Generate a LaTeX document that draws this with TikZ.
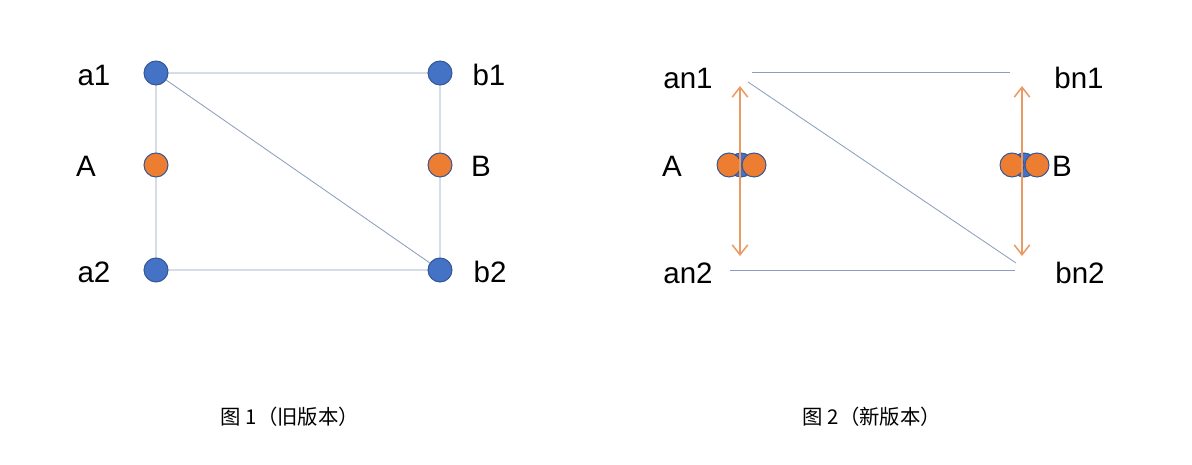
\documentclass[tikz,border=0pt]{standalone}
\usepackage{fontspec}
\setmainfont{Liberation Sans}
\newfontfamily\cjk{Noto Sans CJK SC}
\usepackage{xcolor}
\usetikzlibrary{arrows.meta}
\definecolor{dotblue}{RGB}{68,114,196}
\definecolor{dotedge}{RGB}{52,86,150}
\definecolor{dotorange}{RGB}{237,125,49}
\definecolor{edgegray}{RGB}{140,158,190}
\definecolor{arroworange}{RGB}{234,155,100}

\begin{document}
\begin{tikzpicture}[x=0.025cm, y=-0.025cm,
  bluedot/.style={circle, draw=dotedge, fill=dotblue, line width=0.7pt, minimum size=0.6cm, inner sep=0pt},
  orangedot/.style={circle, draw=dotedge, fill=dotorange, line width=0.7pt, minimum size=0.6cm, inner sep=0pt},
  tag/.style={font=\fontsize{21}{25}\selectfont, inner sep=0pt},
  caption/.style={font=\cjk\fontsize{14.5}{17}\selectfont},
  edge/.style={edgegray, line width=0.6pt},
  arrow/.style={<->, arroworange, line width=1.1pt, >={Straight Barb[length=7pt, width=11pt]}}
]
  \useasboundingbox (0,0) rectangle (1192,465);

  % Figure 1: edges
  \coordinate (pa1) at (156,73);
  \coordinate (pa2) at (156,270);
  \coordinate (pb1) at (440,73);
  \coordinate (pb2) at (440,270);
  \draw[edge] (pa1) -- (pb1) -- (pb2) -- (pa2) -- (pa1) -- (pb2);

  % Figure 1: dots
  \node[bluedot] (a1) at (pa1) {};
  \node[orangedot] (A) at (156,165) {};
  \node[bluedot] (a2) at (pa2) {};
  \node[bluedot] (b1) at (pb1) {};
  \node[orangedot] (B) at (440,165) {};
  \node[bluedot] (b2) at (pb2) {};

  % Figure 1: labels
  \node[tag] (la1) at (94,75) {a1};
  \node[tag] (lA) at (86,166) {A};
  \node[tag] (la2) at (94,272) {a2};
  \node[tag] (lb1) at (489,75) {b1};
  \node[tag] (lB) at (481,166) {B};
  \node[tag] (lb2) at (490,272) {b2};

  % Figure 2: edges
  \coordinate (t1) at (752,72);
  \coordinate (t2) at (1010,72);
  \coordinate (d1) at (748,82);
  \coordinate (d2) at (1016,263);
  \coordinate (u1) at (730,270);
  \coordinate (u2) at (1015,270);
  \draw[edge] (t1) -- (t2);
  \draw[edge] (d1) -- (d2);
  \draw[edge] (u1) -- (u2);

  % Figure 2: merged dots
  \node[bluedot] (An) at (741,165) {};
  \node[orangedot] (Al) at (729,165) {};
  \node[orangedot] (Ar) at (754,165) {};
  \node[bluedot] (Bn) at (1024,165) {};
  \node[orangedot] (Bl) at (1012,165) {};
  \node[orangedot] (Br) at (1037,165) {};

  % Figure 2: arrows
  \coordinate (au) at (740,86);
  \coordinate (ad) at (740,256);
  \coordinate (bu) at (1022,86);
  \coordinate (bd) at (1022,256);
  \draw[arrow] (au) -- (ad);
  \draw[arrow] (bu) -- (bd);

  % Figure 2: labels
  \node[tag] (lan1) at (688,78) {an1};
  \node[tag] (lAn) at (672,166) {A};
  \node[tag] (lan2) at (688,273) {an2};
  \node[tag] (lbn1) at (1079,78) {bn1};
  \node[tag] (lBn) at (1062,166) {B};
  \node[tag] (lbn2) at (1080,273) {bn2};

  % Captions
  \node[caption] (cap1) at (290,417) {图 1（旧版本）};
  \node[caption] (cap2) at (872,417) {图 2（新版本）};
\end{tikzpicture}
\end{document}
